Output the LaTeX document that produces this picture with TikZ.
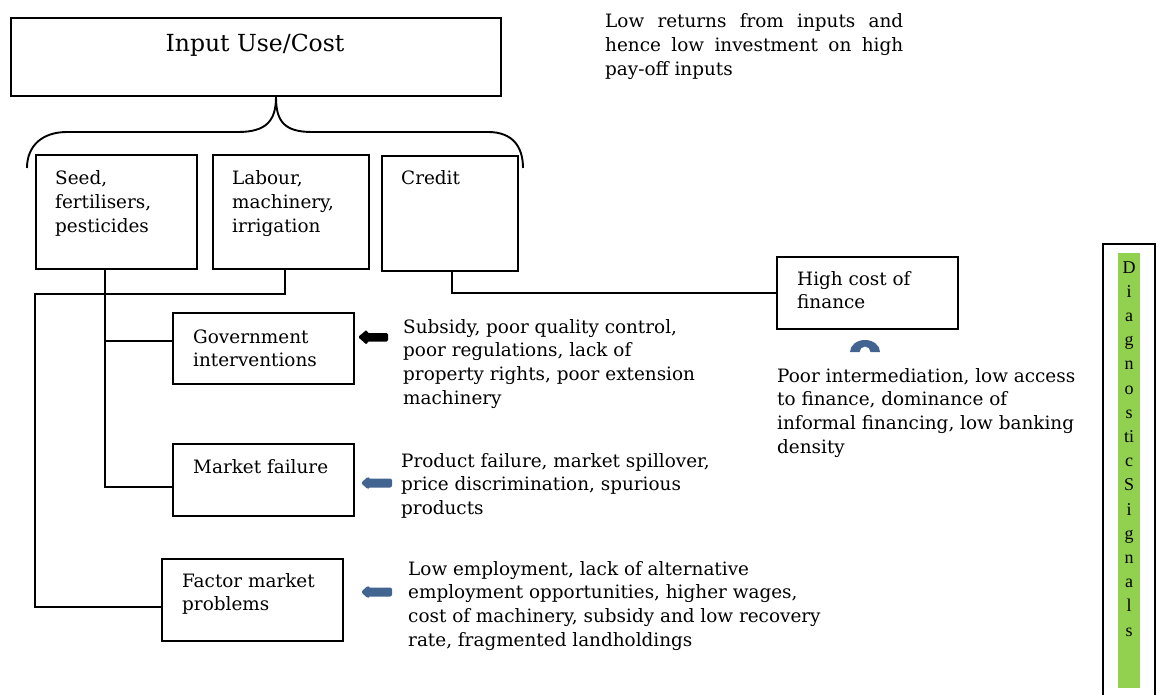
\documentclass[tikz,border=0pt]{standalone}
\usepackage{fontspec}
\setmainfont{DejaVu Serif}
\newfontfamily\tnrfont{Liberation Serif}
\usetikzlibrary{calc}
\definecolor{arrblue}{RGB}{65,100,145}
\definecolor{sigreen}{RGB}{146,208,80}
\newcommand\rowtxt[1]{\hbox{#1}}
\newcommand\mlines[1]{\vtop{\baselineskip=23.7pt\lineskiplimit=-30pt #1}}
\tikzset{
  box/.style={draw, line width=2pt, rectangle, anchor=north west, inner sep=0pt},
  txt/.style={anchor=base west, inner sep=0pt, font=\fontsize{18.4}{23.7}\selectfont},
  conn/.style={line width=1.9pt},
}
\begin{document}
\begin{tikzpicture}[x=1pt,y=-1pt]
\useasboundingbox (0,0) rectangle (1161,695);
\clip (0,0) rectangle (1161,695);
% top box
\node[box, minimum width=490pt, minimum height=78pt] (top) at (10,17) {};
\node[anchor=base, inner sep=0pt, font=\fontsize{23.5}{28}\selectfont] (toptxt) at (255,52) {Input Use/Cost};
% brace
\draw[conn] ([xshift=20pt]top.south) .. controls +(0,24) and (266,132) .. (238,132) -- (67,132) .. controls (42,132) and (27,146) .. (27,168);
\draw[conn] ([xshift=20pt]top.south) .. controls +(0,24) and (284,132) .. (312,132) -- (488,132) .. controls (512,132) and (523,146) .. (523,168);
% input boxes
\node[box, minimum width=161pt, minimum height=114pt] (seed) at (35,154) {};
\node[txt] (seedt) at (55,185) {\mlines{\rowtxt{Seed,}\rowtxt{fertilisers,}\rowtxt{pesticides}}};
\node[box, minimum width=156pt, minimum height=114pt] (labour) at (212,154) {};
\node[txt] (labourt) at (232,185) {\mlines{\rowtxt{Labour,}\rowtxt{machinery,}\rowtxt{irrigation}}};
\node[box, minimum width=136pt, minimum height=115pt] (credit) at (381,155) {};
\node[txt] (creditt) at (401,185) {Credit};
% problem boxes
\node[box, minimum width=181pt, minimum height=71pt] (gov) at (172,312) {};
\node[txt] (govt) at (193,343) {\mlines{\rowtxt{Government}\rowtxt{interventions}}};
\node[box, minimum width=181pt, minimum height=72pt] (market) at (172,443) {};
\node[txt] (markett) at (193,473) {Market failure};
\node[box, minimum width=181pt, minimum height=82pt] (factor) at (161,558) {};
\node[txt] (factort) at (182,587) {\mlines{\rowtxt{Factor market}\rowtxt{problems}}};
\node[box, minimum width=181pt, minimum height=72pt] (high) at (776,256) {};
\node[txt] (hight) at (797,285) {\mlines{\rowtxt{High cost of}\rowtxt{finance}}};
% connectors
\draw[conn] ([xshift=70pt]seed.south west) |- ([yshift=-7pt]market.west);
\draw[conn] ([xshift=70pt]seed.south west) |- ([yshift=7.5pt]gov.west);
\draw[conn] ([xshift=-6pt]labour.south) -- ++(0,24) -| ([xshift=-126pt,yshift=-7pt]factor.west) -- ([yshift=-7pt]factor.west);
\draw[conn] ([xshift=2pt]credit.south) |- (high.west);
% descriptive texts
\node[txt] (rett) at (605,28) {\mlines{\hbox to 298pt{Low returns from inputs and}\hbox to 298pt{hence low investment on high}\rowtxt{pay-off inputs}}};
\node[txt] (govd) at (403,333) {\mlines{\rowtxt{Subsidy, poor quality control,}\rowtxt{poor regulations, lack of}\rowtxt{property rights, poor extension}\rowtxt{machinery}}};
\node[txt] (marketd) at (401,467) {\mlines{\rowtxt{Product failure, market spillover,}\rowtxt{price discrimination, spurious}\rowtxt{products}}};
\node[txt] (factord) at (408,575) {\mlines{\rowtxt{Low employment, lack of alternative}\rowtxt{employment opportunities, higher wages,}\rowtxt{cost of machinery, subsidy and low recovery}\rowtxt{rate, fragmented landholdings}}};
\node[txt] (highd) at (777,382) {\mlines{\rowtxt{Poor intermediation, low access}\rowtxt{to finance, dominance of}\rowtxt{informal financing, low banking}\rowtxt{density}}};
% arrows
\fill[black, rounded corners=1.5pt] (358,337) -- (367,329.5) -- (367,333) -- (388,333) -- (388,341.5) -- (367,341.5) -- (367,345) -- cycle;
\fill[arrblue, rounded corners=2pt] (361,483) -- (368,476.5) -- (368,478.5) -- (392,478.5) -- (392,487.5) -- (368,487.5) -- (368,489.5) -- cycle;
\fill[arrblue, rounded corners=2pt] (361,592) -- (368,585.5) -- (368,587.5) -- (392,587.5) -- (392,596.5) -- (368,596.5) -- (368,598.5) -- cycle;
\fill[arrblue] (850,352) arc[start angle=180, end angle=360, x radius=15, y radius=12] -- (870.5,352) arc[start angle=0, end angle=-180, radius=5.5] -- cycle;
% diagnostic signals
\node[box, minimum width=52pt, minimum height=470pt] (diag) at (1102,243) {};
\fill[sigreen] (1118,253) rectangle (1140,688);
\node[anchor=base, inner sep=0pt, font=\tnrfont\fontsize{18}{24.2}\selectfont] (diagt) at (1129,273) {\vtop{\baselineskip=24.2pt\lineskiplimit=-30pt
\hbox to 22pt{\hss D\hss}\hbox to 22pt{\hss i\hss}\hbox to 22pt{\hss a\hss}\hbox to 22pt{\hss g\hss}\hbox to 22pt{\hss n\hss}\hbox to 22pt{\hss o\hss}\hbox to 22pt{\hss s\hss}\hbox to 22pt{\hss ti\hss}\hbox to 22pt{\hss c\hss}\hbox to 22pt{\hss S\hss}\hbox to 22pt{\hss i\hss}\hbox to 22pt{\hss g\hss}\hbox to 22pt{\hss n\hss}\hbox to 22pt{\hss a\hss}\hbox to 22pt{\hss l\hss}\hbox to 22pt{\hss s\hss}}};
\end{tikzpicture}
\end{document}
